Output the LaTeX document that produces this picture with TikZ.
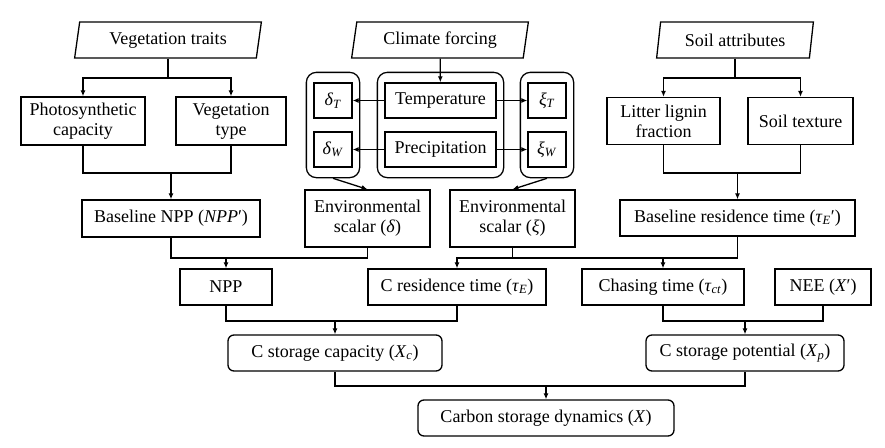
\documentclass[tikz,border=0pt]{standalone}
\usepackage{fontspec}
\setmainfont{Liberation Serif}
\usetikzlibrary{shapes.geometric,arrows.meta,fit}
\newcommand{\mvar}[1]{\textit{#1}}
\newcommand{\msub}[2]{\textit{#1}\textsubscript{\textit{#2}}}

\begin{document}
\begin{tikzpicture}[x=1pt,y=-1pt,line width=1.3pt,
  font=\fontsize{18}{20}\selectfont,
  >={Latex[length=6pt,width=5pt]},
  box/.style={draw,inner sep=0pt,align=center},
  source/.style={draw,trapezium,trapezium left angle=78,trapezium right angle=102,
    trapezium stretches=true,inner sep=0pt,minimum height=36pt},
  group/.style={draw,rounded corners=10pt,inner xsep=7pt,inner ysep=10pt},
  result/.style={box,rounded corners=6pt}]
\useasboundingbox (0,0) rectangle (885,447);
% inputs
\node (vt)[source,minimum width=187pt] at (168,40) {Vegetation traits};
\node (cf)[source,minimum width=177pt] at (440,40) {Climate forcing};
\node (sa)[source,minimum width=157pt] at (735,40) {Soil attributes};
% vegetation
\node (pc)[box,minimum width=124pt,minimum height=48pt] at (83,121) {Photosynthetic\\capacity};
\node (vty)[box,minimum width=110pt,minimum height=48pt] at (231,121) {Vegetation\\type};
\node (bnpp)[box,minimum width=178pt,minimum height=37pt] at (171,218.5) {Baseline NPP (\mvar{NPP}′)};
% climate
\node (temp)[box,minimum width=111pt,minimum height=35pt] at (440.5,100.5) {Temperature};
\node (prec)[box,minimum width=111pt,minimum height=35pt] at (440.5,149.5) {Precipitation};
\node (dT)[box,minimum width=38pt,minimum height=35pt] at (333,100.5) {\msub{δ}{T}};
\node (dW)[box,minimum width=38pt,minimum height=35pt] at (333,149.5) {\msub{δ}{W}};
\node (xT)[box,minimum width=38pt,minimum height=35pt] at (547,100.5) {\msub{ξ}{T}};
\node (xW)[box,minimum width=38pt,minimum height=35pt] at (547,149.5) {\msub{ξ}{W}};
\node (gl)[group,fit=(dT)(dW)] {};
\node (gm)[group,fit=(temp)(prec)] {};
\node (gr)[group,fit=(xT)(xW)] {};
\node (esd)[box,minimum width=125pt,minimum height=57pt] at (367.5,218.5) {Environmental\\scalar (\mvar{δ})};
\node (esx)[box,minimum width=125pt,minimum height=57pt] at (512.5,218.5) {Environmental\\scalar (\mvar{ξ})};
% soil
\node (lf)[box,minimum width=113pt,minimum height=47pt] at (663.5,121) {Litter lignin\\fraction};
\node (st)[box,minimum width=105pt,minimum height=47pt] at (800.5,121) {Soil texture};
\node (brt)[box,minimum width=235pt,minimum height=36pt] at (737.5,218) {Baseline residence time (\msub{τ}{E}′)};
% derived
\node (npp)[box,minimum width=92pt,minimum height=36pt] at (226,287) {NPP};
\node (cres)[box,minimum width=178pt,minimum height=36pt] at (457,287) {C residence time (\msub{τ}{E})};
\node (chase)[box,minimum width=162pt,minimum height=36pt] at (663,287) {Chasing time (\msub{τ}{ct})};
\node (nee)[box,minimum width=96pt,minimum height=36pt] at (823,287) {NEE (\mvar{X}′)};
\node (csc)[result,minimum width=214pt,minimum height=36pt] at (335,353) {C storage capacity (\msub{X}{c})};
\node (csp)[result,minimum width=198pt,minimum height=36pt] at (745,353) {C storage potential (\msub{X}{p})};
\node (csd)[result,minimum width=256pt,minimum height=36pt] at (546,418) {Carbon storage dynamics (\mvar{X})};
% junctions
\coordinate (v1) at (168,78);
\coordinate (v2) at (171,173);
\coordinate (s1) at (735,78);
\coordinate (s2) at (737.5,173);
\coordinate (n1) at (226,258);
\coordinate (r1) at (512.5,258);
\coordinate (c1) at (335,321);
\coordinate (p1) at (745,321);
\coordinate (d1) at (546,386);
% connectors
\draw (vt) -- (v1);
\draw[->] (v1) -| (pc);
\draw[->] (v1) -| (vty);
\draw (pc) |- (v2) -| (vty);
\draw[->] (v2) -- (bnpp);
\draw[->] (cf) -- (temp);
\draw[->] (temp) -- (dT);
\draw[->] (temp) -- (xT);
\draw[->] (prec) -- (dW);
\draw[->] (prec) -- (xW);
\draw[->] (gl.south) -- (esd.north);
\draw[->] (gr.south) -- (esx.north);
\draw (sa) -- (s1);
\draw[->] (s1) -| (lf);
\draw[->] (s1) -| (st);
\draw (lf) |- (s2) -| (st);
\draw[->] (s2) -- (brt);
\draw (bnpp) |- (n1) -| (esd);
\draw[->] (n1) -- (npp);
\draw (esx) -- (r1);
\draw (brt) |- (r1);
\draw[->] (r1) -| (cres);
\draw[->] (r1 -| chase) -- (chase);
\draw (npp) |- (c1) -| (cres);
\draw[->] (c1) -- (csc);
\draw (chase) |- (p1) -| (nee);
\draw[->] (p1) -- (csp);
\draw (csc) |- (d1) -| (csp);
\draw[->] (d1) -- (csd);
\end{tikzpicture}
\end{document}
